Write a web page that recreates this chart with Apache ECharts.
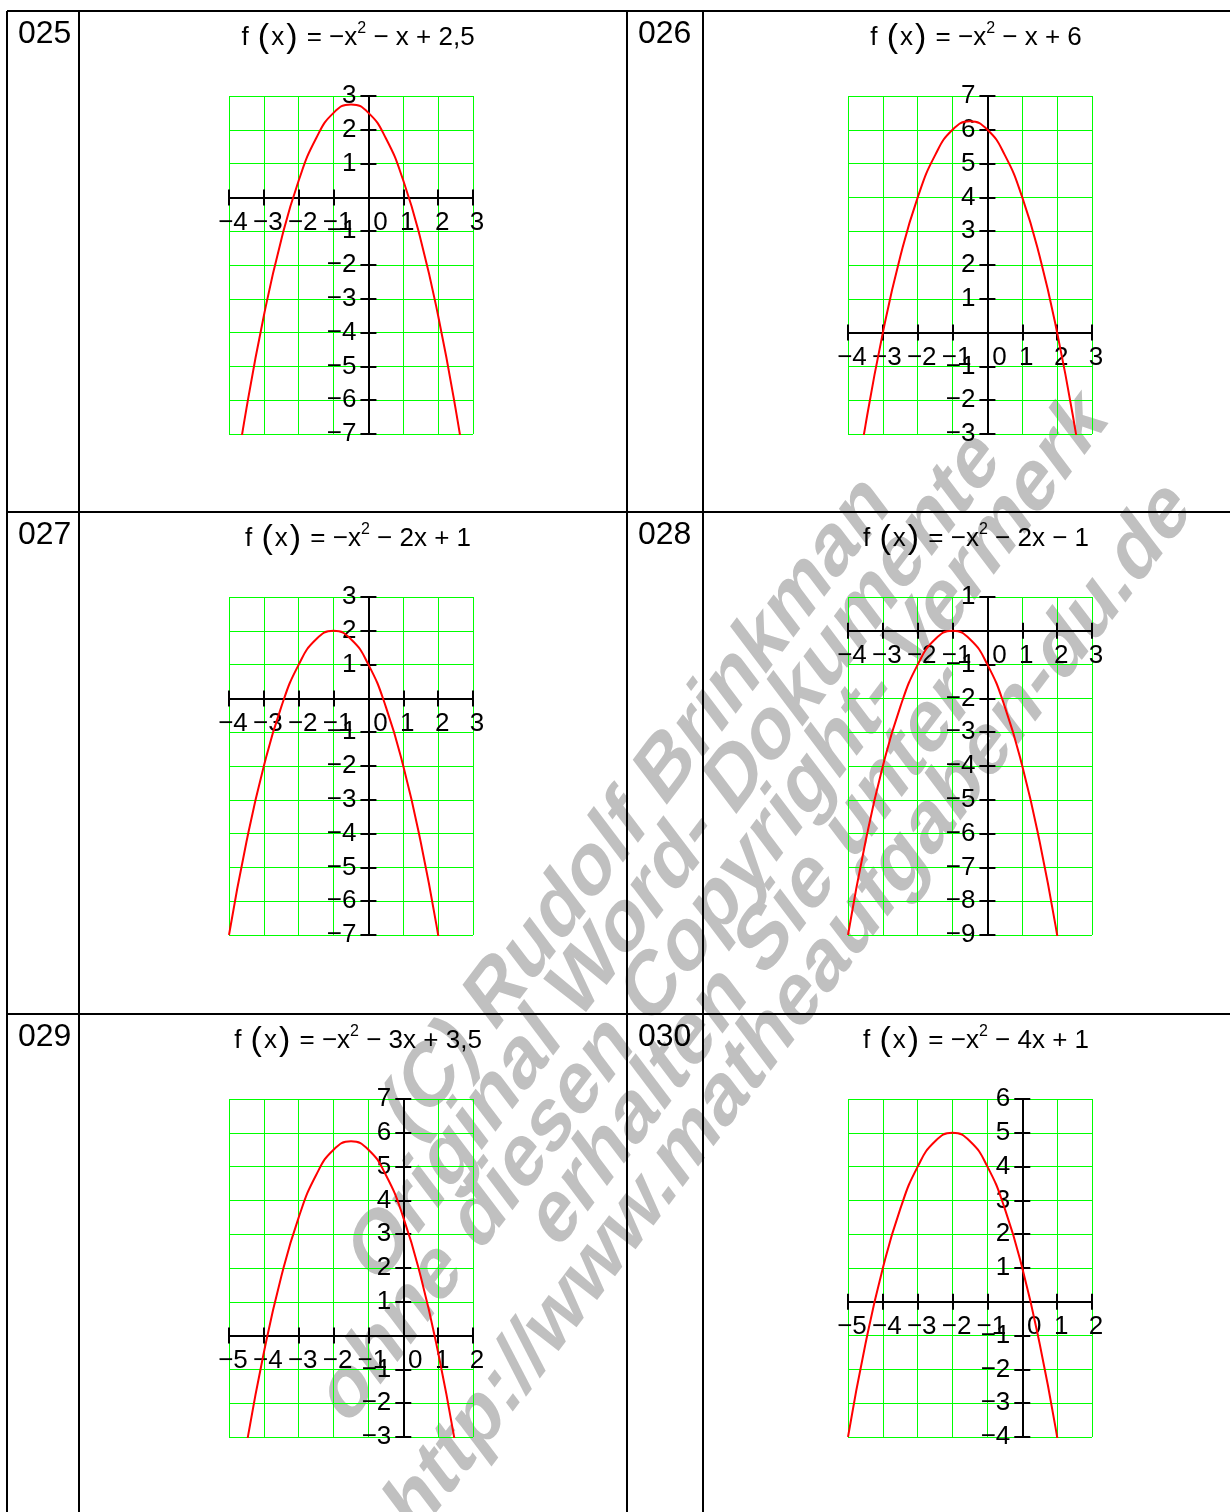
<!DOCTYPE html>
<html>
<head>
<meta charset="utf-8">
<script src="https://cdn.jsdelivr.net/npm/echarts@6/dist/echarts.min.js"></script>
<style>
  html, body { margin: 0; padding: 0; background: #fff; }
  #main { width: 1230px; height: 1512px; }
</style>
</head>
<body>
<div id="main"></div>
<script>
// Aufgabennummern und Funktionsterme
var numbers = ['025', '026', '027', '028', '029', '030'];
var terms = [' \u2212 x + 2,5', ' \u2212 x + 6', ' \u2212 2x + 1', ' \u2212 2x \u2212 1', ' \u2212 3x + 3,5', ' \u2212 4x + 1'];

// Achsenbereiche
var xMin = [-4, -4, -4, -4, -5, -5];
var xMax = [3, 3, 3, 3, 2, 2];
var yMin = [-7, -3, -7, -9, -3, -4];
var yMax = [3, 7, 3, 1, 7, 6];

var xA = [-4, -3.5, -3, -2.5, -2, -1.5, -1, -0.5, 0, 0.5, 1, 1.5, 2, 2.5, 3];
var xB = [-5, -4.5, -4, -3.5, -3, -2.5, -2, -1.5, -1, -0.5, 0, 0.5, 1, 1.5, 2];
var y025 = [-9.5, -6.25, -3.5, -1.25, 0.5, 1.75, 2.5, 2.75, 2.5, 1.75, 0.5, -1.25, -3.5, -6.25, -9.5];
var y026 = [-6, -2.75, 0, 2.25, 4, 5.25, 6, 6.25, 6, 5.25, 4, 2.25, 0, -2.75, -6];
var y027 = [-7, -4.25, -2, -0.25, 1, 1.75, 2, 1.75, 1, -0.25, -2, -4.25, -7, -10.25, -14];
var y028 = [-9, -6.25, -4, -2.25, -1, -0.25, 0, -0.25, -1, -2.25, -4, -6.25, -9, -12.25, -16];
var y029 = [-6.5, -3.25, -0.5, 1.75, 3.5, 4.75, 5.5, 5.75, 5.5, 4.75, 3.5, 1.75, -0.5, -3.25, -6.5];
var y030 = [-4, -1.25, 1, 2.75, 4, 4.75, 5, 4.75, 4, 2.75, 1, -1.25, -4, -7.25, -11];
var curveX = [xA, xA, xA, xA, xB, xB];
var curveY = [y025, y026, y027, y028, y029, y030];

var watermark = ['(C) Rudolf Brinkman', 'Original Word- Dokumente', 'ohne diesen Copyright- Vermerk', 'erhalten Sie unter', 'http://www.matheaufgaben-du.de'];

var myChart = echarts.init(document.getElementById('main'));

var colLeft = [7, 627];
var rowTop = [11, 512, 1014];
var gridLeft = [229, 848];
var gridTop = [96, 597, 1099];
var GW = 244, GH = 338;
var FONT = 'Liberation Sans';

function minus(v) {
  return v < 0 ? '\u2212' + (-v) : '' + v;
}

var grids = [], xAxes = [], yAxes = [], series = [], titles = [], graphics = [];

// Wasserzeichen zuerst (liegt unter allem): 45 Grad gedreht, danach senkrecht gestreckt
var wm = [];
for (var k = 0; k < watermark.length; k++) {
  wm.push({
    type: 'text', x: 0, y: (k - 2) * 54, z: -10, silent: true,
    style: {
      text: watermark[k], font: 'bold 70px "Liberation Sans"', fill: '#c0c0c0',
      textAlign: 'center', textVerticalAlign: 'middle'
    }
  });
}
graphics.push({
  type: 'group', x: 714, y: 908, scaleX: 1, scaleY: 1.32,
  children: [{ type: 'group', rotation: 45 * Math.PI / 180, children: wm }]
});

for (var i = 0; i < 6; i++) {
  var col = i % 2, row = Math.floor(i / 2);
  grids.push({ left: gridLeft[col], top: gridTop[row], width: GW, height: GH, containLabel: false });

  // Achsen durch den Nullpunkt schieben
  var xOff = -(0 - yMin[i]) / (yMax[i] - yMin[i]) * GH;
  var yOff = -(0 - xMin[i]) / (xMax[i] - xMin[i]) * GW;

  var common = { type: 'value', gridIndex: i, min: xMin[i], max: xMax[i], interval: 1, position: 'bottom', offset: xOff };
  xAxes.push(Object.assign({}, common, {
    axisLine: { onZero: false, lineStyle: { color: '#000', width: 2 } },
    axisTick: { length: 8, lineStyle: { color: '#000', width: 2 } },
    splitLine: { show: true, lineStyle: { color: '#00ff00', width: 1 } },
    axisLabel: {
      margin: 12, showMinLabel: true, showMaxLabel: true,
      formatter: function (v) { return v === 0 ? '{z|0}' : '{n|' + minus(v) + '}'; },
      rich: {
        n: { fontFamily: FONT, fontSize: 26, color: '#000', padding: [0, 0, 0, 8] },
        z: { fontFamily: FONT, fontSize: 26, color: '#000', padding: [0, 0, 0, 24] }
      }
    }
  }));
  xAxes.push(Object.assign({}, common, {
    axisLine: { onZero: false, lineStyle: { color: '#000', width: 2 } },
    axisTick: { inside: true, length: 8, lineStyle: { color: '#000', width: 2 } },
    splitLine: { show: false },
    axisLabel: { show: false }
  }));

  var ycommon = { type: 'value', gridIndex: i, min: yMin[i], max: yMax[i], interval: 1, position: 'left', offset: yOff };
  yAxes.push(Object.assign({}, ycommon, {
    axisLine: { onZero: false, lineStyle: { color: '#000', width: 2 } },
    axisTick: { length: 8, lineStyle: { color: '#000', width: 2 } },
    splitLine: { show: true, lineStyle: { color: '#00ff00', width: 1 } },
    axisLabel: {
      margin: 12, showMinLabel: true, showMaxLabel: true,
      fontFamily: FONT, fontSize: 26, color: '#000',
      formatter: function (v) { return v === 0 ? '' : minus(v); }
    }
  }));
  yAxes.push(Object.assign({}, ycommon, {
    axisLine: { onZero: false, lineStyle: { color: '#000', width: 2 } },
    axisTick: { inside: true, length: 8, lineStyle: { color: '#000', width: 2 } },
    splitLine: { show: false },
    axisLabel: { show: false }
  }));

  var pts = [];
  for (var j = 0; j < curveX[i].length; j++) pts.push([curveX[i][j], curveY[i][j]]);
  series.push({
    type: 'line', xAxisIndex: 2 * i, yAxisIndex: 2 * i, data: pts,
    smooth: true, showSymbol: false, clip: true, z: 5,
    lineStyle: { color: '#ff0000', width: 2 }
  });

  // Formel ueber dem Diagramm
  var cx = col === 0 ? 353 : 971;
  titles.push({
    text: 'f {p|(}x{p|)} = \u2212x{s|2}' + terms[i],
    left: cx, top: rowTop[row] + 5, textAlign: 'center',
    textStyle: {
      fontFamily: FONT, fontSize: 26, fontWeight: 'normal', color: '#000',
      rich: {
        p: { fontFamily: FONT, fontSize: 34, fontWeight: 'lighter', color: '#000', padding: [0, 2, 0, 2] },
        s: { fontFamily: FONT, fontSize: 16, color: '#000', verticalAlign: 'top' }
      }
    }
  });

  // Nummer in der linken Spalte
  graphics.push({
    type: 'text', left: colLeft[col] + 11, top: rowTop[row] + 7, z: 20,
    style: { text: numbers[i], font: '32px "Liberation Sans"', fill: '#000' }
  });
}

// Tabellenlinien
var lines = [
  [7, 11, 1240, 11], [7, 512, 1240, 512], [7, 1014, 1240, 1014],
  [7, 11, 7, 1512], [79, 11, 79, 1512], [627, 11, 627, 1512], [703, 11, 703, 1512]
];
lines.forEach(function (l) {
  graphics.push({
    type: 'line', z: 50,
    shape: { x1: l[0], y1: l[1], x2: l[2], y2: l[3] },
    style: { stroke: '#000', lineWidth: 2 }
  });
});

var option = {
  animation: false,
  backgroundColor: '#fff',
  title: titles,
  grid: grids,
  xAxis: xAxes,
  yAxis: yAxes,
  series: series,
  graphic: graphics
};

myChart.setOption(option);
</script>
</body>
</html>
